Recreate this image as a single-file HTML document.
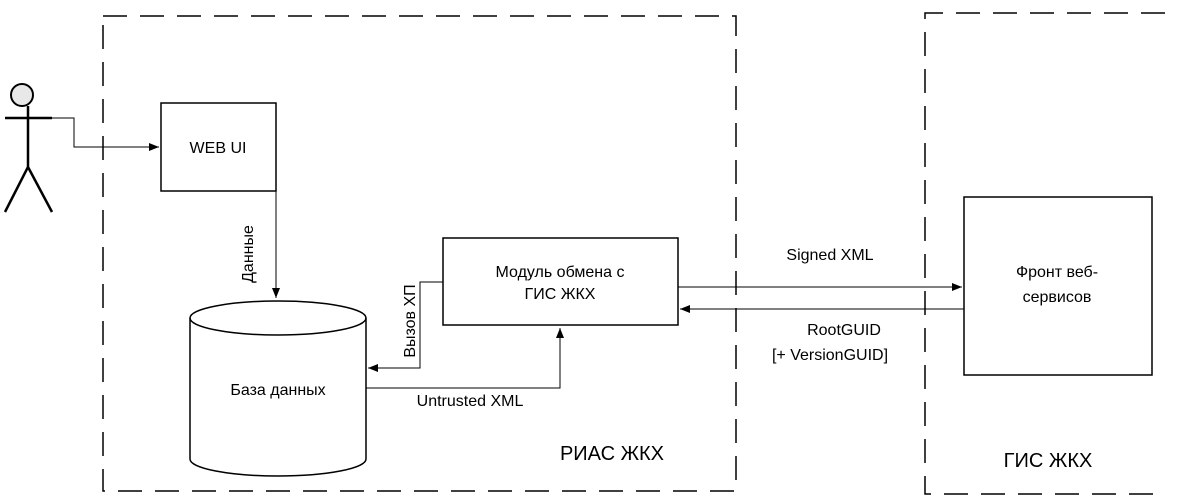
<!DOCTYPE html>
<html><head><meta charset="utf-8"><style>
html,body{margin:0;padding:0;background:#fff}
svg text{font-family:"Liberation Sans",sans-serif;fill:#000}
</style></head><body>
<svg width="1187" height="496" viewBox="0 0 1187 496" xmlns="http://www.w3.org/2000/svg">
<defs><marker id="a" markerWidth="10" markerHeight="8" refX="10" refY="4" orient="auto" markerUnits="userSpaceOnUse"><path d="M0,0 L10,4 L0,8 z" fill="#000"/></marker></defs>
<g fill="none" stroke="#000" stroke-width="1.5" stroke-dasharray="24,13">
<rect x="103" y="16" width="633" height="475"/>
<path d="M1165,13 H925 V494 H1165"/>
</g>
<g fill="none" stroke="#000" stroke-width="1.5">
<rect x="161" y="103" width="115" height="88"/>
<rect x="443" y="238" width="235" height="87"/>
<rect x="964" y="197" width="188" height="178"/>
<path d="M190,318 V459 A88,17 0 0 0 366,459 V318"/>
<ellipse cx="278" cy="318" rx="88" ry="17"/>
</g>
<g fill="none" stroke="#000" stroke-width="1">
<path d="M52,118 H74 V147 H159" marker-end="url(#a)"/>
<path d="M276,191 V298" marker-end="url(#a)"/>
<path d="M443,282 H420 V368 H368" marker-end="url(#a)"/>
<path d="M366,388 H560 V328" marker-end="url(#a)"/>
<path d="M678,287 H962" marker-end="url(#a)"/>
<path d="M964,309 H680" marker-end="url(#a)"/>
</g>
<g stroke="#000" stroke-width="2.5" fill="none">
<circle cx="22" cy="95" r="11" fill="#e8e8e8" stroke-width="2"/>
<path d="M5,118 H52 M28,106 V167 L5,212 M28,167 L52,212"/>
</g>
<g font-size="16" text-anchor="middle">
<text x="218" y="153">WEB UI</text>
<text x="560" y="277">Модуль обмена с</text>
<text x="560" y="299">ГИС ЖКХ</text>
<text x="278" y="395">База данных</text>
<text x="1057" y="277">Фронт веб-</text>
<text x="1057" y="302">сервисов</text>
<text x="830" y="260">Signed XML</text>
<text x="844" y="335">RootGUID</text>
<text x="830" y="360">[+ VersionGUID]</text>
<text x="470" y="406">Untrusted XML</text>
<text x="253" y="254" transform="rotate(-90 253 254)">Данные</text>
<text x="415" y="321" transform="rotate(-90 415 321)">Вызов ХП</text>
<text x="612" y="460" font-size="20">РИАС ЖКХ</text>
<text x="1048" y="467" font-size="20">ГИС ЖКХ</text>
</g>
</svg>
</body></html>
